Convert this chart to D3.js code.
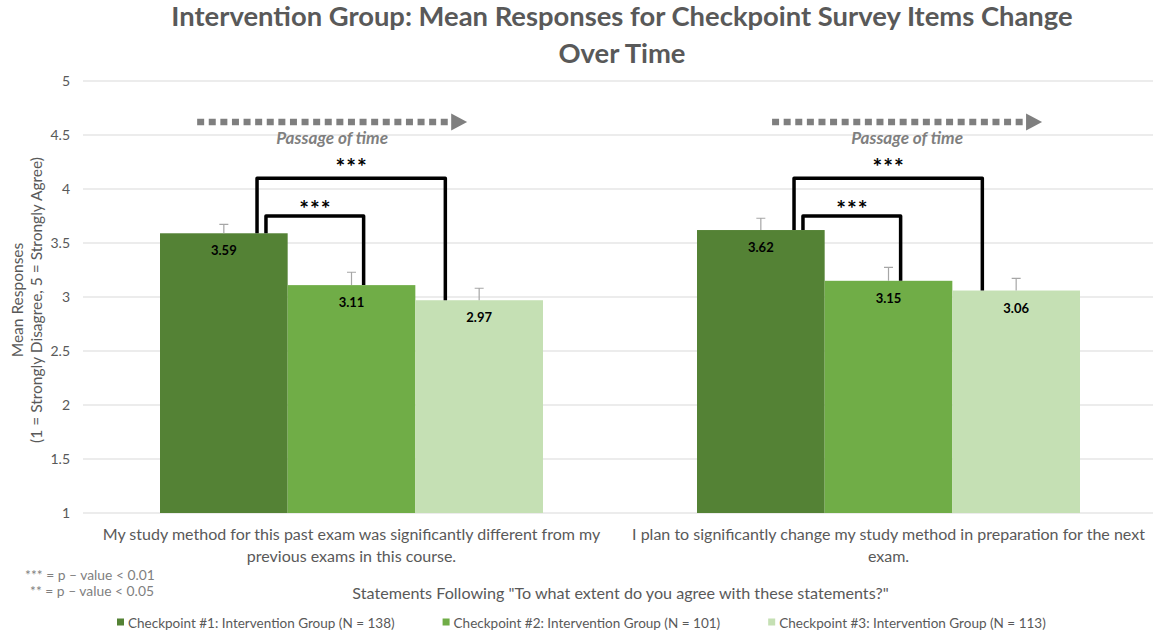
<!DOCTYPE html>
<html>
<head>
<meta charset="utf-8">
<script src="https://cdn.jsdelivr.net/npm/d3@7"></script>
<style>
  body { margin: 0; background: #fff; }
  svg { display: block; }
  text { font-family: Lato, "Open Sans", "DejaVu Sans", sans-serif; }
</style>
</head>
<body>
<svg id="chart" width="1153" height="634"></svg>
<script>
// ---- data ----
const statements = [
  ["My study method for this past exam was significantly different from my", "previous exams in this course."],
  ["I plan to significantly change my study method in preparation for the next", "exam."]
];
const seriesNames = [
  "Checkpoint #1: Intervention Group (N = 138)",
  "Checkpoint #2: Intervention Group (N = 101)",
  "Checkpoint #3: Intervention Group (N = 113)"
];
const checkpoint1 = [3.59, 3.62];
const checkpoint2 = [3.11, 3.15];
const checkpoint3 = [2.97, 3.06];
const errorCheckpoint1 = [0.083, 0.109];
const errorCheckpoint2 = [0.119, 0.125];
const errorCheckpoint3 = [0.111, 0.113];
const yTicks = [1, 1.5, 2, 2.5, 3, 3.5, 4, 4.5, 5];
const seriesColors = ["#548235", "#70AD47", "#C5E0B4"];
const significance = [
  { from: 0, to: 1, level: 3.75, label: "***" },
  { from: 0, to: 2, level: 4.10, label: "***" }
];
const footnotes = ["*** = p \u2013 value < 0.01", "** = p \u2013 value < 0.05"];

const title = ["Intervention Group: Mean Responses for Checkpoint Survey Items Change", "Over Time"];
const yTitle = ["Mean Responses", "(1 = Strongly Disagree, 5 = Strongly Agree)"];
const xTitle = "Statements Following \"To what extent do you agree with these statements?\"";

const values = [checkpoint1, checkpoint2, checkpoint3];
const errors = [errorCheckpoint1, errorCheckpoint2, errorCheckpoint3];

// ---- layout ----
const W = 1153, H = 634;
const plot = { left: 83, right: 1157, top: 81, bottom: 513 };
const grey = "#595959";

const svg = d3.select("#chart");

// scale a text so it spans the given width
function fitSize(sel, width) {
  const node = sel.node();
  const fs = parseFloat(sel.attr("font-size"));
  const w = node.getComputedTextLength();
  return fs * width / w;
}

const x0 = d3.scaleBand()
  .domain(d3.range(statements.length))
  .range([plot.left, plot.right])
  .paddingInner(0.2868)
  .paddingOuter(0.1434);
const x1 = d3.scaleBand()
  .domain(d3.range(seriesNames.length))
  .range([0, x0.bandwidth()]);
const y = d3.scaleLinear().domain([1, 5]).range([plot.bottom, plot.top]);

// gridlines
svg.append("g")
  .selectAll("line")
  .data(yTicks)
  .join("line")
  .attr("x1", plot.left).attr("x2", W)
  .attr("y1", d => y(d)).attr("y2", d => y(d))
  .attr("stroke", "#d9d9d9").attr("stroke-width", 1);

// y axis labels
const yAxis = svg.append("g")
  .attr("transform", `translate(${plot.left - 13},0)`)
  .call(d3.axisLeft(y).tickValues(yTicks).tickSize(0).tickPadding(0).tickFormat(d3.format("~g")));
yAxis.select(".domain").remove();
yAxis.selectAll("text")
  .attr("fill", grey)
  .attr("font-size", 14)
  .attr("font-family", "Lato, sans-serif");

// y title
const yMid = (plot.top + plot.bottom) / 2 + 3;
const yt = svg.append("g").attr("fill", grey);
const yt2 = yt.append("text")
  .attr("transform", `translate(42,${yMid}) rotate(-90)`)
  .attr("text-anchor", "middle").attr("font-size", 14).text(yTitle[1]);
const ytSize = fitSize(yt2, 286);
yt2.attr("font-size", ytSize);
yt.append("text")
  .attr("transform", `translate(23,${yMid}) rotate(-90)`)
  .attr("text-anchor", "middle").attr("font-size", ytSize).text(yTitle[0]);

// bars
const groups = svg.append("g")
  .selectAll("g")
  .data(statements.map((s, i) => i))
  .join("g")
  .attr("transform", i => `translate(${x0(i)},0)`);

const barData = i => seriesNames.map((n, s) => ({ s, i, v: values[s][i], e: errors[s][i] }));

groups.selectAll("rect")
  .data(barData)
  .join("rect")
  .attr("x", d => x1(d.s))
  .attr("width", x1.bandwidth())
  .attr("y", d => y(d.v))
  .attr("height", d => y(1) - y(d.v))
  .attr("fill", d => seriesColors[d.s]);

// error bars (plus direction)
groups.selectAll("path.err")
  .data(barData)
  .join("path")
  .attr("class", "err")
  .attr("d", d => {
    const cx = x1(d.s) + x1.bandwidth() / 2;
    return `M${cx},${y(d.v)}V${y(d.v + d.e)}M${cx - 4.5},${y(d.v + d.e)}H${cx + 4.5}`;
  })
  .attr("fill", "none").attr("stroke", "#a6a6a6").attr("stroke-width", 1.2);

// value labels
groups.selectAll("text.val")
  .data(barData)
  .join("text")
  .attr("class", "val")
  .attr("x", d => x1(d.s) + x1.bandwidth() / 2)
  .attr("y", d => y(d.v) + 22)
  .attr("text-anchor", "middle")
  .attr("font-size", 13).attr("font-weight", 700)
  .attr("fill", "#000")
  .text(d => d3.format(".2f")(d.v));

// significance brackets
const legFrac = { from: [0.83, 0.76], to: { 1: 0.595, 2: 0.235 } };
const labelDy = [11.8, 15.8];
const starSpacing = 1;
const starSize = 23;
groups.each(function (i) {
  const g = d3.select(this);
  significance.forEach((c, k) => {
    const xl = x1(c.from) + x1.bandwidth() * legFrac.from[k];
    const xr = x1(c.to) + x1.bandwidth() * legFrac.to[c.to];
    const yl = y(values[c.from][i]);
    const yr = y(values[c.to][i]);
    const yk = y(c.level);
    g.append("path")
      .attr("d", `M${xl},${yl}V${yk}H${xr}V${yr}`)
      .attr("fill", "none").attr("stroke", "#000")
      .attr("stroke-width", 3.5).attr("stroke-linejoin", "round");
    g.append("text")
      .attr("x", (xl + xr) / 2 + starSpacing / 2)
      .attr("y", yk - labelDy[k] + starSize * 0.555)
      .attr("text-anchor", "middle")
      .attr("font-family", "'DejaVu Sans', sans-serif")
      .attr("font-size", starSize).attr("font-weight", 700)
      .attr("letter-spacing", starSpacing)
      .attr("fill", "#000")
      .text(c.label);
  });
});

// passage-of-time arrows
const arrowSpan = [[0.097, 0.802], [0.196, 0.901]];
const arrowY = 122;
groups.each(function (i) {
  const g = d3.select(this);
  const bw = x0.bandwidth();
  const xs = bw * arrowSpan[i][0], xe = bw * arrowSpan[i][1];
  const head = 16;
  g.append("line")
    .attr("x1", xs).attr("x2", xe - head - 1)
    .attr("y1", arrowY).attr("y2", arrowY)
    .attr("stroke", "#7f7f7f").attr("stroke-width", 6.5)
    .attr("stroke-dasharray", "7,4.6");
  g.append("path")
    .attr("d", `M${xe - head},${arrowY - 8.5}L${xe},${arrowY}L${xe - head},${arrowY + 8.5}Z`)
    .attr("fill", "#7f7f7f");
  const pt = g.append("text")
    .attr("x", (xs + xe) / 2)
    .attr("y", 144)
    .attr("text-anchor", "middle")
    .attr("font-size", 14).attr("font-weight", 700).attr("font-style", "italic")
    .attr("fill", "#7f7f7f")
    .text("Passage of time");
  pt.attr("font-size", fitSize(pt, 112));
});

// title
const t1 = svg.append("text")
  .attr("x", 622).attr("y", 26)
  .attr("text-anchor", "middle")
  .attr("font-size", 24).attr("font-weight", 700)
  .attr("fill", grey).text(title[0]);
const tSize = fitSize(t1, 902);
t1.attr("font-size", tSize);
svg.append("text")
  .attr("x", 622).attr("y", 62.5)
  .attr("text-anchor", "middle")
  .attr("font-size", tSize).attr("font-weight", 700)
  .attr("fill", grey).text(title[1]);

// category labels
const catLines = svg.append("g").attr("fill", grey);
const probe = catLines.append("text").attr("font-size", 15).text(statements[0][0]);
const catSize = fitSize(probe, 498);
probe.remove();
statements.forEach((lines, i) => {
  lines.forEach((ln, j) => {
    catLines.append("text")
      .attr("x", x0(i) + x0.bandwidth() / 2)
      .attr("y", 540 + j * 21.5)
      .attr("text-anchor", "middle")
      .attr("font-size", catSize)
      .text(ln);
  });
});

// x title
const xt = svg.append("text")
  .attr("x", 620.5).attr("y", 599)
  .attr("text-anchor", "middle")
  .attr("font-size", 15).attr("fill", grey).text(xTitle);
xt.attr("font-size", fitSize(xt, 537));

// footnotes
const fn0 = svg.append("text").attr("x", 25).attr("y", 580)
  .attr("font-size", 12).attr("fill", "#7f7f7f").text(footnotes[0]);
const fnSize = fitSize(fn0, 130);
fn0.attr("font-size", fnSize);
svg.append("text").attr("x", 30).attr("y", 596)
  .attr("font-size", fnSize).attr("fill", "#7f7f7f").text(footnotes[1]);

// legend
const legend = svg.append("g");
const lp = legend.append("text").attr("font-size", 13).text(seriesNames[0]);
const legSize = fitSize(lp, 267);
lp.remove();
let lx = 117;
seriesNames.forEach((name, s) => {
  legend.append("rect")
    .attr("x", lx).attr("y", 618.5).attr("width", 7).attr("height", 7)
    .attr("fill", seriesColors[s]);
  const t = legend.append("text")
    .attr("x", lx + 11).attr("y", 627.5)
    .attr("font-size", legSize).attr("fill", grey).text(name);
  lx += 11 + t.node().getComputedTextLength() + 48;
});
</script>
</body>
</html>
